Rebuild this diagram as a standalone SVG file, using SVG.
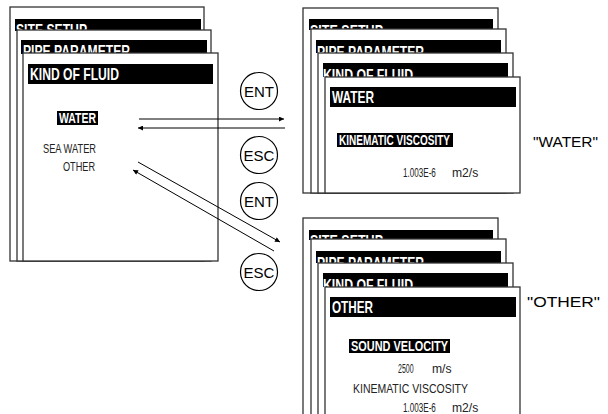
<svg xmlns="http://www.w3.org/2000/svg" width="608" height="414" viewBox="0 0 608 414">
<style>
.pn{fill:#fff;stroke:#333;stroke-width:1.3}
.bar{fill:#000}
.tt{font-family:"Liberation Sans",Arial,sans-serif;font-weight:bold;font-size:16.5px;fill:#fff}
.hl{font-family:"Liberation Sans",Arial,sans-serif;font-weight:bold;font-size:14px;fill:#fff}
.bd{font-family:"Liberation Sans",Arial,sans-serif;font-size:13.5px;fill:#222}
.key{fill:#fff;stroke:#000;stroke-width:1.2}
.kt{font-family:"Liberation Sans",Arial,sans-serif;font-size:15px;fill:#000;text-anchor:middle}
.lbl{font-family:"Liberation Sans",Arial,sans-serif;font-size:15px;fill:#000}
.cn{stroke:#000;stroke-width:1;fill:none;marker-end:url(#ah)}
</style>
<defs>
<marker id="ah" viewBox="0 0 10 10" refX="10" refY="5" markerWidth="7" markerHeight="5" orient="auto" markerUnits="userSpaceOnUse">
<path d="M0,0L10,5L0,10z" fill="#000"/>
</marker>
</defs>

<g id="left-screens">
<rect class="pn" x="10" y="7" width="194" height="254"/>
<rect class="bar" x="15" y="19" width="186" height="12"/>
<text class="tt" x="16" y="36" textLength="71" lengthAdjust="spacingAndGlyphs">SITE SETUP</text>
<rect class="pn" x="17" y="30" width="194" height="231"/>
<rect class="bar" x="21" y="40" width="186" height="14"/>
<text class="tt" x="23" y="57" textLength="107" lengthAdjust="spacingAndGlyphs">PIPE PARAMETER</text>
<rect class="pn" x="23" y="53" width="195" height="208"/>
<rect class="bar" x="28" y="64" width="185" height="20"/>
<text class="tt" x="30" y="80" textLength="89" lengthAdjust="spacingAndGlyphs">KIND OF FLUID</text>
<rect class="bar" x="57" y="111" width="41" height="14"/>
<text class="hl" x="59" y="123" textLength="37" lengthAdjust="spacingAndGlyphs">WATER</text>
<text class="bd" x="43" y="153" textLength="53" lengthAdjust="spacingAndGlyphs">SEA WATER</text>
<text class="bd" x="63" y="171" textLength="32" lengthAdjust="spacingAndGlyphs">OTHER</text>
</g>

<g id="water-screens">
<rect class="pn" x="303" y="8" width="195" height="185"/>
<rect class="bar" x="309" y="19" width="184" height="11"/>
<text class="tt" x="310" y="37" textLength="73" lengthAdjust="spacingAndGlyphs">SITE SETUP</text>
<rect class="pn" x="311" y="29" width="195" height="164"/>
<rect class="bar" x="316" y="40" width="185" height="13"/>
<text class="tt" x="317" y="58" textLength="107" lengthAdjust="spacingAndGlyphs">PIPE PARAMETER</text>
<rect class="pn" x="318" y="53" width="195" height="140"/>
<rect class="bar" x="323" y="63" width="185" height="14"/>
<text class="tt" x="323" y="81" textLength="90" lengthAdjust="spacingAndGlyphs">KIND OF FLUID</text>
<rect class="pn" x="325" y="77" width="195" height="116"/>
<rect class="bar" x="330" y="87" width="186" height="20"/>
<text class="tt" x="332" y="103" textLength="42" lengthAdjust="spacingAndGlyphs">WATER</text>
<rect class="bar" x="337" y="133" width="116" height="14"/>
<text class="hl" x="339" y="145" textLength="111" lengthAdjust="spacingAndGlyphs">KINEMATIC VISCOSITY</text>
<text class="bd" transform="translate(403 177) scale(0.6 1)">1.003E-6</text>
<text class="bd" transform="translate(452 177) scale(0.9 1)">m2/s</text>
</g>

<g id="other-screens">
<rect class="pn" x="303" y="218" width="195" height="210"/>
<rect class="bar" x="309" y="230" width="184" height="10"/>
<text class="tt" x="310" y="247" textLength="73" lengthAdjust="spacingAndGlyphs">SITE SETUP</text>
<rect class="pn" x="311" y="239" width="195" height="190"/>
<rect class="bar" x="316" y="251" width="185" height="12"/>
<text class="tt" x="317" y="269" textLength="107" lengthAdjust="spacingAndGlyphs">PIPE PARAMETER</text>
<rect class="pn" x="318" y="263" width="195" height="166"/>
<rect class="bar" x="323" y="273" width="185" height="14"/>
<text class="tt" x="323" y="291" textLength="90" lengthAdjust="spacingAndGlyphs">KIND OF FLUID</text>
<rect class="pn" x="325" y="287" width="195" height="142"/>
<rect class="bar" x="330" y="297" width="186" height="20"/>
<text class="tt" x="332" y="313" textLength="41" lengthAdjust="spacingAndGlyphs">OTHER</text>
<rect class="bar" x="349" y="339" width="101" height="14"/>
<text class="hl" x="351" y="351" textLength="97" lengthAdjust="spacingAndGlyphs">SOUND VELOCITY</text>
<text class="bd" transform="translate(398 373) scale(0.52 1)">2500</text>
<text class="bd" transform="translate(432 373) scale(0.9 1)">m/s</text>
<text class="bd" x="353" y="393" textLength="115" lengthAdjust="spacingAndGlyphs">KINEMATIC VISCOSITY</text>
<text class="bd" transform="translate(403 412) scale(0.6 1)">1.003E-6</text>
<text class="bd" transform="translate(452 412) scale(0.9 1)">m2/s</text>
</g>

<g id="connectors">
<line class="cn" x1="139" y1="119" x2="284" y2="119"/>
<line class="cn" x1="285" y1="128" x2="138" y2="128"/>
<line class="cn" x1="138" y1="162" x2="280" y2="242"/>
<line class="cn" x1="274" y1="251" x2="133" y2="170"/>
</g>

<g id="key-ent-1"><circle class="key" cx="259" cy="91" r="18.5"/><text class="kt" x="259" y="97">ENT</text></g>
<g id="key-esc-1"><circle class="key" cx="259" cy="155" r="18.5"/><text class="kt" x="259" y="161">ESC</text></g>
<g id="key-ent-2"><circle class="key" cx="259" cy="201" r="18.5"/><text class="kt" x="259" y="207">ENT</text></g>
<g id="key-esc-2"><circle class="key" cx="259" cy="272" r="18.5"/><text class="kt" x="259" y="278">ESC</text></g>

<g id="label-water"><text class="lbl" x="533" y="147" textLength="65" lengthAdjust="spacingAndGlyphs">"WATER"</text></g>
<g id="label-other"><text class="lbl" x="527" y="307" textLength="73" lengthAdjust="spacingAndGlyphs">"OTHER"</text></g>
</svg>
